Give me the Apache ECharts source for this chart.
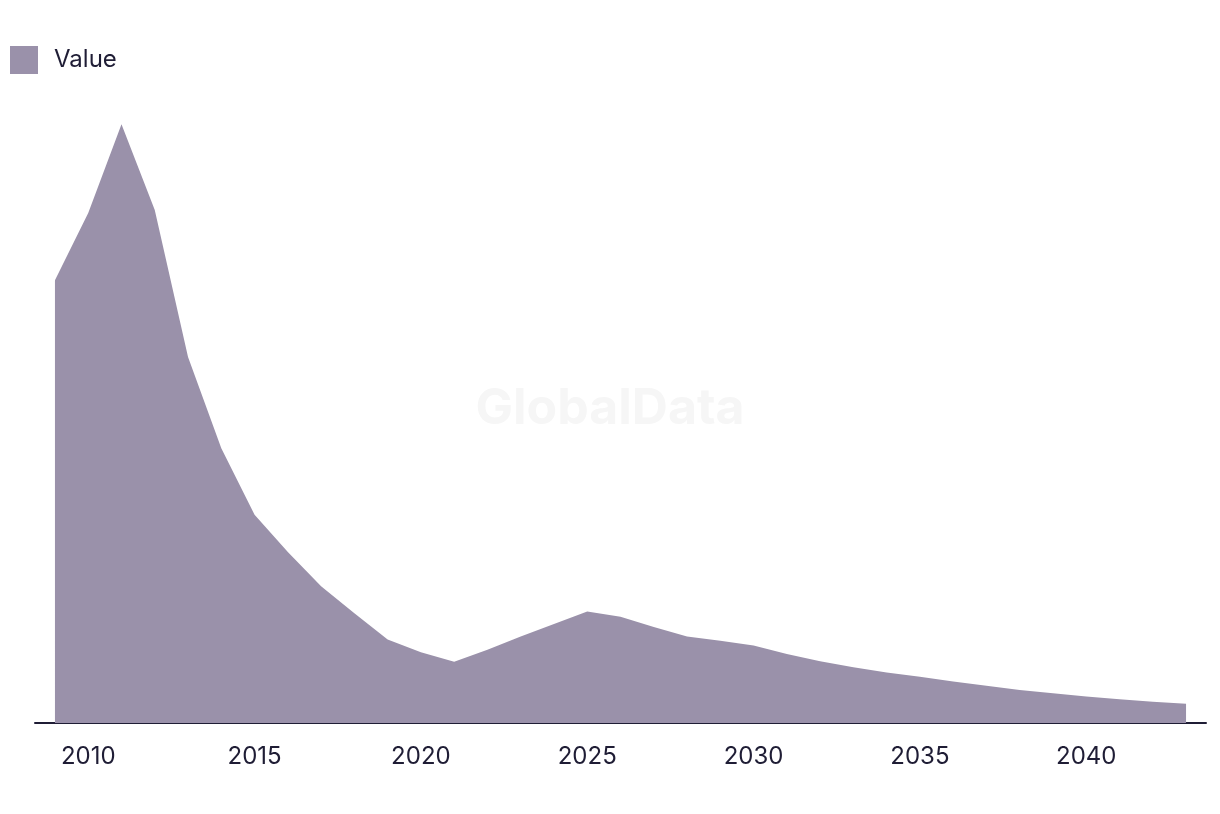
<!DOCTYPE html>
<html>
<head>
<meta charset="utf-8">
<script src="https://cdn.jsdelivr.net/npm/echarts@6/dist/echarts.min.js"></script>
<style>
html,body{margin:0;padding:0;background:#fff;}
#chart{width:1220px;height:814px;}
</style>
</head>
<body>
<div id="chart"></div>
<script>
const years = [2009,2010,2011,2012,2013,2014,2015,2016,2017,2018,2019,2020,2021,2022,2023,2024,2025,2026,2027,2028,2029,2030,2031,2032,2033,2034,2035,2036,2037,2038,2039,2040,2041,2042,2043];
const values = [73.8,85.0,99.8,85.5,61.0,45.8,34.7,28.5,22.8,18.3,13.9,11.8,10.2,12.2,14.4,16.5,18.6,17.7,16.0,14.4,13.7,12.9,11.5,10.3,9.3,8.4,7.7,6.9,6.2,5.5,4.95,4.4,3.95,3.55,3.2];
const tickLabels = [2010,2015,2020,2025,2030,2035,2040];
const seriesName = 'Value';

const chart = echarts.init(document.getElementById('chart'));
const textColor = '#1f1d35';
chart.setOption({
  animation: false,
  backgroundColor: '#ffffff',
  textStyle: { fontFamily: 'Inter' },
  graphic: [{
    type: 'text',
    left: 'center',
    top: 384,
    z: 0,
    style: { text: 'GlobalData', fontFamily: 'Inter', fontWeight: 'bold', fontSize: 50, fill: '#f6f6f6' }
  }],
  legend: {
    left: 5, top: 41,
    icon: 'rect',
    itemWidth: 28, itemHeight: 28,
    textStyle: { color: textColor, fontSize: 24, fontFamily: 'Inter', padding: [0,0,0,11] },
    data: [seriesName]
  },
  grid: { left: 35, right: 14, top: 123, bottom: 91, containLabel: false },
  xAxis: {
    type: 'value',
    min: 2008.4, max: 2043.6,
    splitLine: { show: false },
    axisTick: { show: false },
    axisLine: { show: true, lineStyle: { color: textColor, width: 2 } },
    axisLabel: {
      customValues: tickLabels,
      color: textColor, fontSize: 24, fontFamily: 'Inter', margin: 22,
      formatter: v => String(v)
    }
  },
  yAxis: {
    type: 'value', min: 0, max: 100, show: false,
    splitLine: { show: false }
  },
  series: [{
    name: seriesName,
    type: 'line',
    data: years.map((y, i) => [y, values[i]]),
    symbol: 'none',
    lineStyle: { width: 0 },
    itemStyle: { color: '#9a91aa' },
    areaStyle: { color: '#9a91aa', opacity: 1 },
    z: 2
  }]
});
</script>
</body>
</html>
